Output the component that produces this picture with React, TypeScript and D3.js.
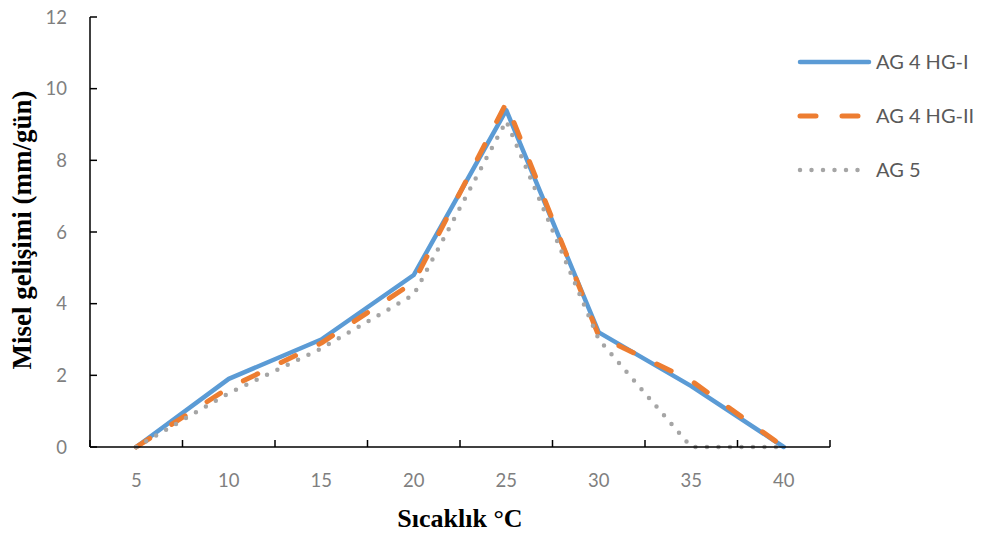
import React from "react";
import * as d3 from "d3";

const categories = ["5", "10", "15", "20", "25", "30", "35", "40"];
const seriesNames = ["AG 4 HG-I", "AG 4 HG-II", "AG 5"];
const hg1 = [0, 1.9, 3.0, 4.8, 9.4, 3.2, 1.7, 0];
const hg2 = [0, 1.65, 2.9, 4.6, 9.6, 3.1, 1.85, 0];
const ag5 = [0, 1.5, 2.75, 4.25, 9.1, 3.0, 0, 0];
const yTicks = [0, 2, 4, 6, 8, 10, 12];

const W = 983;
const H = 533;
const left = 90;
const right = 830;
const top = 17;
const bottom = 447;

const styles = [
  { color: "#5B9BD5", width: 4.5, dash: "none" },
  { color: "#ED7D31", width: 5, dash: "16 26" },
  { color: "#A5A5A5", width: 4.5, dash: "0 11.5" },
];

export default function App() {
  const x = d3.scaleBand<string>().domain(categories).range([left, right]);
  const y = d3.scaleLinear().domain([0, 12]).range([bottom, top]);
  const cx = (c: string) => (x(c) as number) + x.bandwidth() / 2;
  const line = d3
    .line<number>()
    .x((_, i) => cx(categories[i]))
    .y((d) => y(d));
  const data = [hg1, hg2, ag5];
  const boundaries = categories.map((c) => x(c) as number).concat([right]);
  const labelFont = "Lato, 'Open Sans', sans-serif";
  const titleFont = "'Liberation Serif', 'Times New Roman', serif";
  return (
    <svg width={W} height={H} style={{ position: "absolute", left: 0, top: 0, background: "#fff" }}>
      {data.map((d, i) => (
        <path
          key={i}
          d={line(d) as string}
          fill="none"
          stroke={styles[i].color}
          strokeWidth={styles[i].width}
          strokeDasharray={styles[i].dash}
          strokeLinecap="round"
          strokeLinejoin="round"
        />
      ))}
      <line x1={left} x2={left} y1={top} y2={bottom} stroke="#000" strokeWidth={1.5} />
      <line x1={left} x2={right} y1={bottom} y2={bottom} stroke="#000" strokeWidth={1.5} />
      {yTicks.map((t) => (
        <g key={t}>
          <line x1={left} x2={left + 7} y1={y(t)} y2={y(t)} stroke="#000" strokeWidth={1.5} />
          <text
            x={67}
            y={y(t)}
            dy="0.36em"
            textAnchor="end"
            fontFamily={labelFont}
            fontSize={18.5}
            fill="#7F7F7F"
          >
            {t}
          </text>
        </g>
      ))}
      {boundaries.map((b, i) => (
        <line key={i} x1={b} x2={b} y1={bottom} y2={bottom - 7} stroke="#000" strokeWidth={1.5} />
      ))}
      {categories.map((c) => (
        <text
          key={c}
          x={cx(c)}
          y={480}
          dy="0.36em"
          textAnchor="middle"
          fontFamily={labelFont}
          fontSize={18.5}
          fill="#7F7F7F"
        >
          {c}
        </text>
      ))}
      <text
        x={460}
        y={527}
        textAnchor="middle"
        fontFamily={titleFont}
        fontWeight="bold"
        fontSize={26}
        fill="#000"
      >
        Sıcaklık °C
      </text>
      <text
        transform={`translate(31, 230) rotate(-90)`}
        textAnchor="middle"
        fontFamily={titleFont}
        fontWeight="bold"
        fontSize={27}
        fill="#000"
      >
        Misel gelişimi (mm/gün)
      </text>
      {seriesNames.map((n, i) => {
        const ly = 62 + i * 54;
        return (
          <g key={n}>
            <line
              x1={800}
              x2={869}
              y1={ly}
              y2={ly}
              stroke={styles[i].color}
              strokeWidth={styles[i].width}
              strokeDasharray={styles[i].dash}
              strokeLinecap="round"
            />
            <text
              x={876}
              y={ly}
              dy="0.36em"
              fontFamily={labelFont}
              fontSize={20}
              fill="#595959"
            >
              {n}
            </text>
          </g>
        );
      })}
    </svg>
  );
}
